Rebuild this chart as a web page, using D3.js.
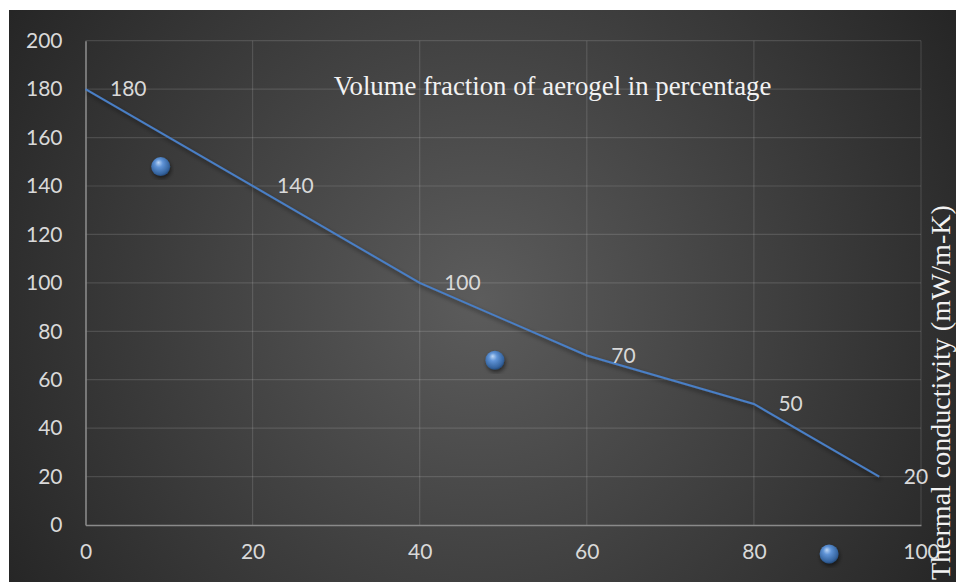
<!DOCTYPE html>
<html>
<head>
<meta charset="utf-8">
<script src="https://cdn.jsdelivr.net/npm/d3@7"></script>
<style>
  html, body { margin: 0; padding: 0; background: #ffffff; }
  svg { display: block; }
</style>
</head>
<body>
<svg id="chart" width="956" height="582"></svg>
<script>
// ---- data ----
const lineX = [0, 20, 40, 60, 80, 95];
const lineY = [180, 140, 100, 70, 50, 20];
const lineLabels = ["180", "140", "100", "70", "50", "20"];
const pointX = [9, 49, 89];
const pointY = [148, 68, -12];
const xTicks = [0, 20, 40, 60, 80, 100];
const yTicks = [0, 20, 40, 60, 80, 100, 120, 140, 160, 180, 200];
const titleText = "Volume fraction of aerogel in percentage";
const yTitleText = "Thermal conductivity (mW/m-K)";

const W = 956, H = 582;
const svg = d3.select("#chart");
const defs = svg.append("defs");

const bg = defs.append("radialGradient").attr("id", "bg")
  .attr("gradientUnits", "userSpaceOnUse")
  .attr("cx", 480).attr("cy", 300).attr("r", 560);
bg.append("stop").attr("offset", "0%").attr("stop-color", "#5c5c5c");
bg.append("stop").attr("offset", "100%").attr("stop-color", "#252525");

const sph = defs.append("radialGradient").attr("id", "sphere")
  .attr("cx", "45%").attr("cy", "40%").attr("r", "60%").attr("fx", "38%").attr("fy", "28%");
sph.append("stop").attr("offset", "0%").attr("stop-color", "#bcd6f5");
sph.append("stop").attr("offset", "35%").attr("stop-color", "#5f93d6");
sph.append("stop").attr("offset", "85%").attr("stop-color", "#35649f");
sph.append("stop").attr("offset", "100%").attr("stop-color", "#244a7a");

const sh = defs.append("filter").attr("id", "shadow")
  .attr("x", "-10%").attr("y", "-10%").attr("width", "130%").attr("height", "130%");
sh.append("feDropShadow").attr("dx", 1).attr("dy", 2.5).attr("stdDeviation", 2)
  .attr("flood-color", "#000").attr("flood-opacity", 0.55);

svg.append("rect").attr("x", 9).attr("y", 10).attr("width", W - 9).attr("height", H - 10)
  .attr("fill", "url(#bg)");

const x = d3.scaleLinear().domain([0, 100]).range([85.5, 921]);
const y = d3.scaleLinear().domain([0, 200]).range([525, 40.7]);

// grid
const grid = svg.append("g");
grid.selectAll("line.h").data(yTicks.filter(d => d > 0)).join("line")
  .attr("x1", x(0)).attr("x2", x(100))
  .attr("y1", d => y(d)).attr("y2", d => y(d))
  .attr("stroke", "rgba(255,255,255,0.13)").attr("stroke-width", 1.2);
grid.selectAll("line.v").data(xTicks.filter(d => d > 0)).join("line")
  .attr("x1", d => x(d)).attr("x2", d => x(d))
  .attr("y1", y(200)).attr("y2", y(0))
  .attr("stroke", "rgba(255,255,255,0.13)").attr("stroke-width", 1.2);

// axes
const yAxis = d3.axisLeft(y).tickValues(yTicks).tickSize(0).tickPadding(23);
const xAxis = d3.axisBottom(x).tickValues(xTicks).tickSize(0).tickPadding(19);
const gy = svg.append("g").attr("transform", `translate(${x(0)},0)`).call(yAxis);
const gx = svg.append("g").attr("transform", `translate(0,${y(0)})`).call(xAxis);
[gx, gy].forEach(g => {
  g.select(".domain").attr("stroke", "#8a8a8a").attr("stroke-width", 1.6);
  g.selectAll("text").attr("fill", "#d9d9d9")
    .style("font-family", "Lato, 'Open Sans', sans-serif").style("font-size", "21px");
});

// line
const line = d3.line().x(d => x(d[0])).y(d => y(d[1]));
const pts = lineX.map((v, i) => [v, lineY[i]]);
svg.append("path").datum(pts).attr("d", line)
  .attr("fill", "none").attr("stroke", "#4a7fc6").attr("stroke-width", 2)
  .attr("filter", "url(#shadow)");

// data labels
svg.append("g").selectAll("text").data(pts).join("text")
  .attr("x", d => x(d[0]) + 24.5).attr("y", d => y(d[1]))
  .attr("dy", "0.35em")
  .attr("fill", "#d9d9d9")
  .style("font-family", "Lato, 'Open Sans', sans-serif").style("font-size", "21px")
  .text((d, i) => lineLabels[i]);

// sphere points
svg.append("g").selectAll("circle").data(pointX.map((v, i) => [v, pointY[i]])).join("circle")
  .attr("cx", d => x(d[0])).attr("cy", d => y(d[1])).attr("r", 9.5)
  .attr("fill", "url(#sphere)").attr("filter", "url(#shadow)");

// titles
svg.append("text").attr("x", 552.5).attr("y", 95)
  .attr("text-anchor", "middle").attr("fill", "#f2f2f2")
  .style("font-family", "'Liberation Serif', 'Times New Roman', serif").style("font-size", "26.8px")
  .text(titleText);

svg.append("text")
  .attr("transform", "translate(949.5,580) rotate(-90)")
  .attr("text-anchor", "start").attr("fill", "#f2f2f2")
  .style("font-family", "'Liberation Serif', 'Times New Roman', serif").style("font-size", "28px")
  .text(yTitleText);
</script>
</body>
</html>
